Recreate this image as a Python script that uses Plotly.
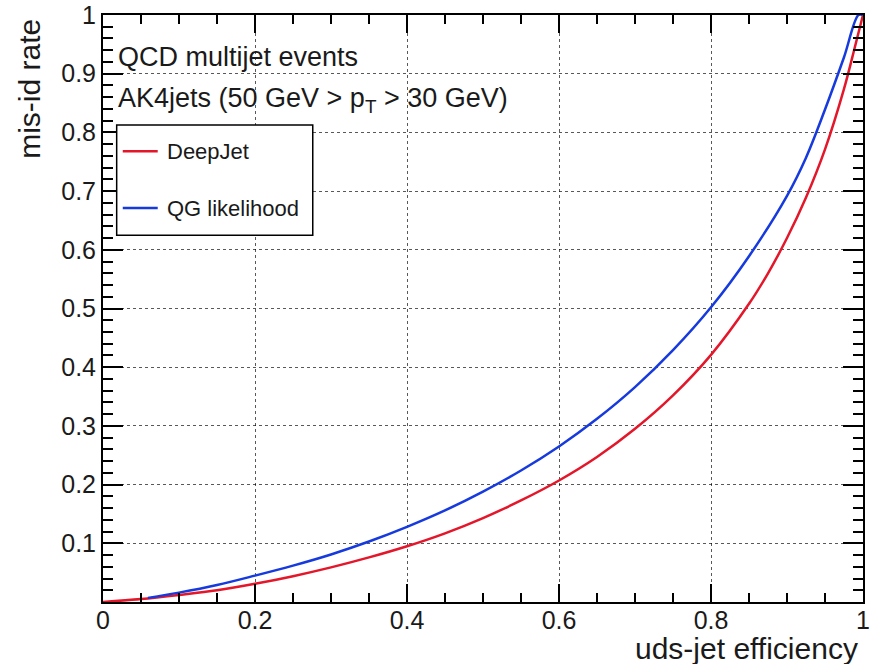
import plotly.graph_objects as go

# ---- data ----
deepjet_eff = [0.0, 0.05, 0.1, 0.15, 0.2, 0.25, 0.3, 0.35, 0.4, 0.45, 0.5, 0.55, 0.6, 0.65, 0.7, 0.75,
               0.8, 0.85, 0.875, 0.9, 0.925, 0.95, 0.975, 0.99, 1.0]
deepjet_mis = [0.0, 0.005, 0.012, 0.020, 0.031, 0.044, 0.059, 0.076, 0.095, 0.117, 0.143, 0.173, 0.207, 0.247, 0.295, 0.352,
               0.421, 0.508, 0.560, 0.620, 0.689, 0.771, 0.874, 0.949, 1.0]

qg_eff = [0.059, 0.1, 0.15, 0.2, 0.25, 0.3, 0.35, 0.4, 0.45, 0.5, 0.55, 0.6, 0.65, 0.7, 0.75,
          0.8, 0.85, 0.9, 0.925, 0.95, 0.975, 0.994, 1.0]
qg_mis = [0.007, 0.016, 0.029, 0.045, 0.062, 0.081, 0.103, 0.128, 0.156, 0.188, 0.224, 0.265, 0.312, 0.366, 0.429,
          0.502, 0.589, 0.692, 0.757, 0.839, 0.928, 1.0, 1.0]

x_tickvals = [0, 0.2, 0.4, 0.6, 0.8, 1.0]
x_ticktext = ["0", "0.2", "0.4", "0.6", "0.8", "1"]
y_tickvals = [0.1, 0.2, 0.3, 0.4, 0.5, 0.6, 0.7, 0.8, 0.9, 1.0]
y_ticktext = ["0.1", "0.2", "0.3", "0.4", "0.5", "0.6", "0.7", "0.8", "0.9", "1"]

series_names = ["DeepJet", "QG likelihood"]
RED = "rgb(228,22,42)"
BLUE = "rgb(22,58,222)"
FONT = "Liberation Sans, Arial, sans-serif"
TXT = "#1a1a1a"

fig = go.Figure()
fig.add_trace(go.Scatter(x=deepjet_eff, y=deepjet_mis, mode="lines", name=series_names[0],
                         line=dict(color=RED, width=2.5, shape="spline", smoothing=1.0), showlegend=False))
fig.add_trace(go.Scatter(x=qg_eff, y=qg_mis, mode="lines", name=series_names[1],
                         line=dict(color=BLUE, width=2.5, shape="spline", smoothing=1.0), showlegend=False))

axis_common = dict(
    range=[0, 1], showgrid=True, griddash="dot", gridcolor="rgba(0,0,0,0.65)", gridwidth=1,
    zeroline=False, showline=True, linecolor="black", linewidth=2, mirror="ticks",
    ticks="inside", tickcolor="black", tickwidth=1.5, automargin=False,
    tickfont=dict(family=FONT, size=25, color=TXT), tickmode="array",
)

fig.update_xaxes(**axis_common, tickvals=x_tickvals, ticktext=x_ticktext, ticklen=18,
                 ticklabelstandoff=-5,
                 minor=dict(ticks="inside", tick0=0, dtick=0.05, ticklen=9, tickcolor="black",
                            tickwidth=1.5, showgrid=False))
fig.update_yaxes(**axis_common, tickvals=y_tickvals, ticktext=y_ticktext, ticklen=20,
                 minor=dict(ticks="inside", tick0=0, dtick=0.02, ticklen=10, tickcolor="black",
                            tickwidth=1.5, showgrid=False))

ann = []
# axis titles
ann.append(dict(text="mis-id rate", x=-0.096, y=0.997, xref="paper", yref="paper", xanchor="center", yanchor="top",
                textangle=-90, showarrow=False, font=dict(family=FONT, size=30, color=TXT)))
ann.append(dict(text="uds-jet efficiency", x=0.996, y=-0.079, xref="paper", yref="paper", xanchor="right",
                yanchor="middle", showarrow=False, font=dict(family=FONT, size=30, color=TXT)))
# labels
ann.append(dict(text="QCD multijet events", x=0.017, y=0.928, xref="paper", yref="paper", xanchor="left",
                yanchor="middle", showarrow=False, font=dict(family=FONT, size=27, color=TXT)))
ann.append(dict(text="AK4jets (50 GeV > p<sub>T</sub> > 30 GeV)", x=0.017, y=0.855, xref="paper", yref="paper",
                xanchor="left", yanchor="middle", showarrow=False, font=dict(family=FONT, size=27, color=TXT)))
# legend text
ann.append(dict(text=series_names[0], x=0.082, y=0.768, xref="paper", yref="paper", xanchor="left", yanchor="middle",
                showarrow=False, font=dict(family=FONT, size=22, color=TXT)))
ann.append(dict(text=series_names[1], x=0.082, y=0.671, xref="paper", yref="paper", xanchor="left", yanchor="middle",
                showarrow=False, font=dict(family=FONT, size=22, color=TXT)))

shapes = [
    dict(type="rect", xref="paper", yref="paper", x0=0.018, x1=0.276, y0=0.625, y1=0.8126,
         line=dict(color="black", width=1.5), fillcolor="white", layer="above"),
    dict(type="line", xref="paper", yref="paper", x0=0.026, x1=0.072, y0=0.768, y1=0.768,
         line=dict(color=RED, width=2.5), layer="above"),
    dict(type="line", xref="paper", yref="paper", x0=0.026, x1=0.072, y0=0.671, y1=0.671,
         line=dict(color=BLUE, width=2.5), layer="above"),
]

fig.update_layout(
    width=877, height=664,
    margin=dict(l=103, r=14, t=15, b=62, autoexpand=False),
    paper_bgcolor="white", plot_bgcolor="white",
    annotations=ann, shapes=shapes, showlegend=False,
)

fig.write_html("out.html", config={"displayModeBar": False},
               post_script="document.body.style.margin='0';document.body.style.overflow='hidden';")
